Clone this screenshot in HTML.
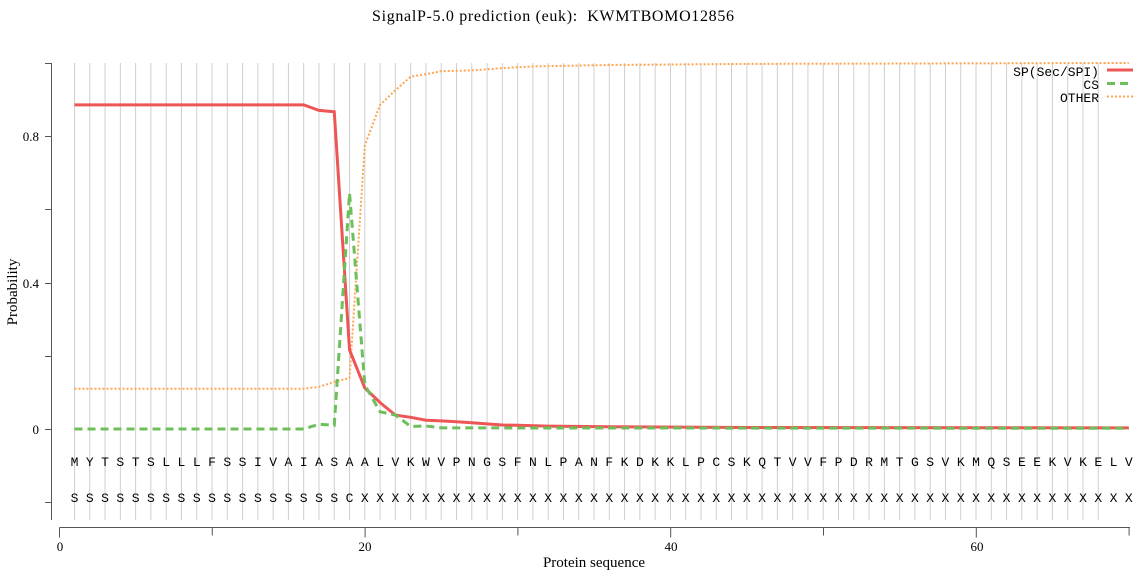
<!DOCTYPE html>
<html><head><meta charset="utf-8"><style>
html,body{margin:0;padding:0;background:#fff;}
svg{display:block;}
</style></head><body>
<svg width="1139" height="572" viewBox="0 0 1139 572" xmlns="http://www.w3.org/2000/svg">
<text x="372" y="21" textLength="362" lengthAdjust="spacing" font-family="Liberation Serif, serif" font-size="16" fill="#000">SignalP-5.0 prediction (euk):&#160; KWMTBOMO12856</text>
<!-- grid -->
<path stroke="#cfcfcf" stroke-width="1" fill="none" d="M74.5 63v457m15.28 -457v457m15.28 -457v457m15.28 -457v457m15.28 -457v457m15.28 -457v457m15.28 -457v457m15.28 -457v457m15.28 -457v457m15.28 -457v457m15.28 -457v457m15.28 -457v457m15.28 -457v457m15.28 -457v457m15.28 -457v457m15.28 -457v457m15.28 -457v457m15.28 -457v457m15.28 -457v457m15.28 -457v457m15.28 -457v457m15.28 -457v457m15.28 -457v457m15.28 -457v457m15.28 -457v457m15.28 -457v457m15.28 -457v457m15.28 -457v457m15.28 -457v457m15.28 -457v457m15.28 -457v457m15.28 -457v457m15.28 -457v457m15.28 -457v457m15.28 -457v457m15.28 -457v457m15.28 -457v457m15.28 -457v457m15.28 -457v457m15.28 -457v457m15.28 -457v457m15.28 -457v457m15.28 -457v457m15.28 -457v457m15.28 -457v457m15.28 -457v457m15.28 -457v457m15.28 -457v457m15.28 -457v457m15.28 -457v457m15.28 -457v457m15.28 -457v457m15.28 -457v457m15.28 -457v457m15.28 -457v457m15.28 -457v457m15.28 -457v457m15.28 -457v457m15.28 -457v457m15.28 -457v457m15.28 -457v457m15.28 -457v457m15.28 -457v457m15.28 -457v457m15.28 -457v457m15.28 -457v457m15.28 -457v457m15.28 -457v457"/>
<!-- y axis -->
<path stroke="#555" stroke-width="1" fill="none" d="M51.5 63V520M45 63.5h6.5M45 136.5h6.5M45 209.5h6.5M45 283.5h6.5M45 356.5h6.5M45 429.5h6.5M45 502.5h6.5"/>
<g font-family="Liberation Serif, serif" font-size="13" fill="#000" text-anchor="end">
<text x="39" y="141">0.8</text><text x="39" y="288">0.4</text><text x="39" y="434">0</text>
</g>
<text transform="translate(17,292) rotate(-90)" text-anchor="middle" font-family="Liberation Serif, serif" font-size="15">Probability</text>
<!-- x axis -->
<path stroke="#555" stroke-width="1" fill="none" d="M59.5 527.5H1130M59.5 527.5v10M212.3 527.5v8M365.1 527.5v10M517.9 527.5v8M670.7 527.5v10M823.5 527.5v8M976.3 527.5v10M1129.1 527.5v8"/>
<g font-family="Liberation Serif, serif" font-size="13" fill="#000" text-anchor="middle">
<text x="60" y="551">0</text><text x="365" y="551">20</text><text x="671" y="551">40</text><text x="977" y="551">60</text>
</g>
<text x="594" y="567" text-anchor="middle" font-family="Liberation Serif, serif" font-size="15">Protein sequence</text>
<!-- series -->
<polyline fill="none" stroke="#ffa54f" stroke-width="2" stroke-dasharray="2,2" points="74.5,388.7 303.7,388.7 318.98,386.9 334.26,382 349.54,378 364.82,145.2 380.1,104.9 395.38,90.2 410.66,76.7 425.94,74.1 441.22,71.2 471.78,70.4 502.34,68.2 532.9,66.4 609.3,65 746.82,63.9 1128.82,63"/>
<polyline fill="none" stroke="#ee5555" stroke-width="3" points="74.5,104.9 303.7,104.9 318.98,110.4 334.26,111.8 349.54,349.9 364.82,388 380.1,402.6 395.38,415.1 410.66,417.3 425.94,420.2 441.22,420.9 456.5,421.7 471.78,422.8 487.06,423.9 502.34,425 517.62,425.3 548.18,426.1 609.3,426.8 746.82,427.5 1128.82,427.9"/>
<polyline fill="none" stroke="#6cbf5a" stroke-width="3" stroke-dasharray="8,5" points="74.5,429 303.7,429 318.98,424.2 334.26,425.3 349.54,193.1 364.82,385 380.1,411.8 395.38,415 410.66,426.4 425.94,426 441.22,427.9 1128.82,428.3"/>
<!-- legend -->
<g font-family="Liberation Mono, monospace" font-size="13" fill="#000" text-anchor="end">
<text x="1099" y="76">SP(Sec/SPI)</text><text x="1099" y="89">CS</text><text x="1099" y="102">OTHER</text>
</g>
<path stroke="#ee5555" stroke-width="3" d="M1107 70h26"/>
<path stroke="#6cbf5a" stroke-width="3" stroke-dasharray="8,5" d="M1107 83.5h26"/>
<path stroke="#ffa54f" stroke-width="2" stroke-dasharray="2,2" d="M1107 96.5h26"/>
<!-- sequence -->
<g font-family="Liberation Mono, monospace" font-size="13" fill="#000" text-anchor="middle">
<text y="466" x="74.5 89.78 105.06 120.34 135.62 150.9 166.18 181.46 196.74 212.02 227.3 242.58 257.86 273.14 288.42 303.7 318.98 334.26 349.54 364.82 380.1 395.38 410.66 425.94 441.22 456.5 471.78 487.06 502.34 517.62 532.9 548.18 563.46 578.74 594.02 609.3 624.58 639.86 655.14 670.42 685.7 700.98 716.26 731.54 746.82 762.1 777.38 792.66 807.94 823.22 838.5 853.78 869.06 884.34 899.62 914.9 930.18 945.46 960.74 976.02 991.3 1006.58 1021.86 1037.14 1052.42 1067.7 1082.98 1098.26 1113.54 1128.82">MYTSTSLLLFSSIVAIASAALVKWVPNGSFNLPANFKDKKLPCSKQTVVFPDRMTGSVKMQSEEKVKELV</text>
<text y="502" x="74.5 89.78 105.06 120.34 135.62 150.9 166.18 181.46 196.74 212.02 227.3 242.58 257.86 273.14 288.42 303.7 318.98 334.26 349.54 364.82 380.1 395.38 410.66 425.94 441.22 456.5 471.78 487.06 502.34 517.62 532.9 548.18 563.46 578.74 594.02 609.3 624.58 639.86 655.14 670.42 685.7 700.98 716.26 731.54 746.82 762.1 777.38 792.66 807.94 823.22 838.5 853.78 869.06 884.34 899.62 914.9 930.18 945.46 960.74 976.02 991.3 1006.58 1021.86 1037.14 1052.42 1067.7 1082.98 1098.26 1113.54 1128.82">SSSSSSSSSSSSSSSSSSCXXXXXXXXXXXXXXXXXXXXXXXXXXXXXXXXXXXXXXXXXXXXXXXXXXX</text>
</g>
</svg>
</body></html>
